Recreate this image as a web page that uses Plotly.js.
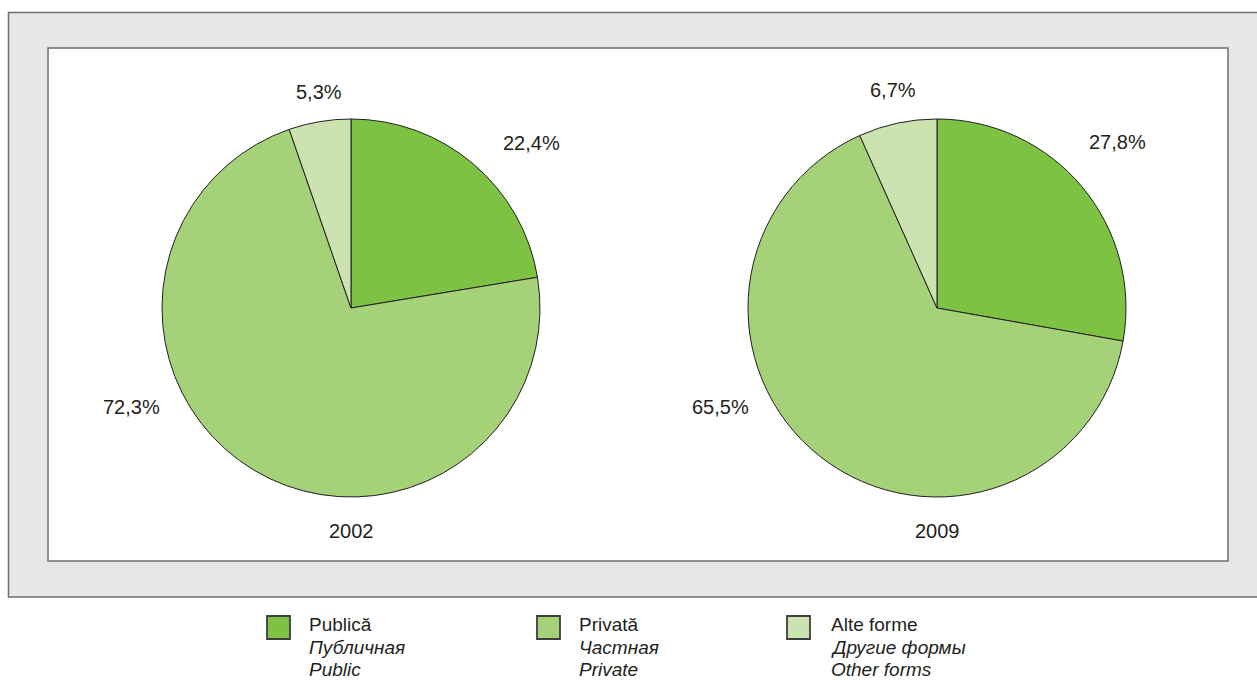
<!DOCTYPE html>
<html>
<head>
<meta charset="utf-8">
<script src="https://cdn.plot.ly/plotly-3.0.1.min.js"></script>
<style>html,body{margin:0;padding:0;background:#fff;}#chart{width:1257px;height:680px;}</style>
</head>
<body>
<div id="chart"></div>
<script>
const years = ["2002", "2009"];
const categories = ["Publică", "Privată", "Alte forme"];
const categoriesRu = ["Публичная", "Частная", "Другие формы"];
const categoriesEn = ["Public", "Private", "Other forms"];
const values2002 = [22.4, 72.3, 5.3];
const values2009 = [27.8, 65.5, 6.7];
const colors = ["#7dc242", "#a5d279", "#cce3b1"];

const W = 1257, H = 680;
const px = x => x / W;
const py = y => 1 - y / H;
const FONT = "Liberation Sans, Arial, sans-serif";
const TXT = "#231f20";
const FS = 20;

function pieTrace(vals, cx) {
  const cy = 308, r = 189;
  return {
    type: "pie",
    values: vals,
    labels: categories,
    sort: false,
    direction: "clockwise",
    rotation: 0,
    marker: {colors: colors, line: {color: "#231f20", width: 1}},
    textinfo: "none",
    hoverinfo: "label+percent",
    showlegend: false,
    domain: {x: [px(cx - r), px(cx + r)], y: [py(cy + r), py(cy - r)]}
  };
}

const data = [pieTrace(values2002, 351), pieTrace(values2009, 937)];

const fmt = v => v.toFixed(1).replace(".", ",") + "%";
const annotations = [];
// label positions per chart: [Publică, Privată, Alte forme]
const labelPos = [
  [[531, 143], [131, 407], [319, 92]],
  [[1117, 142], [720, 407], [893, 90]]
];
[values2002, values2009].forEach((vals, i) => {
  vals.forEach((v, j) => {
    annotations.push({xref: "paper", yref: "paper", x: px(labelPos[i][j][0]), y: py(labelPos[i][j][1]),
      text: fmt(v), showarrow: false, xanchor: "center", yanchor: "middle",
      font: {family: FONT, size: FS, color: TXT}});
  });
  annotations.push({xref: "paper", yref: "paper", x: px([351, 937][i]), y: py(531),
    text: years[i], showarrow: false, xanchor: "center", yanchor: "middle",
    font: {family: FONT, size: FS, color: TXT}});
});

const shapes = [
  {type: "rect", xref: "paper", yref: "paper", x0: px(8.5), x1: px(1270), y0: py(597), y1: py(12.5),
   fillcolor: "#e6e7e8", line: {color: "#6d6e70", width: 1.5}, layer: "below"},
  {type: "rect", xref: "paper", yref: "paper", x0: px(48), x1: px(1228), y0: py(561), y1: py(48),
   fillcolor: "#ffffff", line: {color: "#6d6e70", width: 1.5}, layer: "below"}
];

const legendX = [267, 537, 787];
const legendTextX = [308, 578, 830];
const legendLineY = [624, 647, 669];
categories.forEach((c, j) => {
  shapes.push({type: "rect", xref: "paper", yref: "paper", x0: px(legendX[j]), x1: px(legendX[j] + 23),
    y0: py(639), y1: py(616), fillcolor: colors[j], line: {color: "#3d3d3d", width: 1.8}});
  const lines = [c, "<i>" + categoriesRu[j] + "</i>", "<i>" + categoriesEn[j] + "</i>"];
  lines.forEach((t, k) => {
    annotations.push({xref: "paper", yref: "paper", x: px(legendTextX[j]), y: py(legendLineY[k]),
      text: t, showarrow: false, xanchor: "left", yanchor: "middle", borderpad: 0,
      font: {family: FONT, size: 19, color: TXT}});
  });
});

const layout = {
  width: W, height: H,
  margin: {l: 0, r: 0, t: 0, b: 0},
  paper_bgcolor: "#ffffff",
  shapes: shapes,
  annotations: annotations,
  showlegend: false
};

Plotly.newPlot("chart", data, layout, {displayModeBar: false, staticPlot: true});
</script>
</body>
</html>
